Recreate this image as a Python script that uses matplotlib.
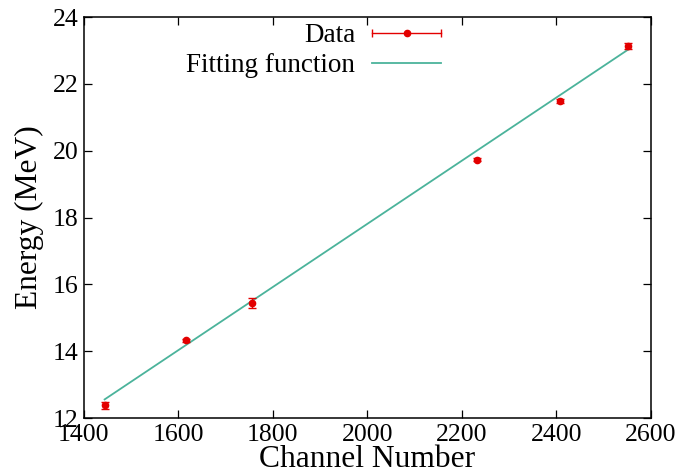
import numpy as np
import matplotlib
matplotlib.use("Agg")
import matplotlib.pyplot as plt
from matplotlib.lines import Line2D
from matplotlib.legend_handler import HandlerBase

# calibration points: channel vs energy
channel = [1444, 1616, 1756, 2232, 2407, 2551]
energy = [12.38, 14.33, 15.45, 19.73, 21.49, 23.13]
energy_err = [0.10, 0.05, 0.15, 0.05, 0.05, 0.10]

# linear fit evaluated over the data range
fit_channel = [1444, 2551]
fit_energy = [12.56, 23.02]

DATA_COLOR = "#e30000"
FIT_COLOR = "#4bb39b"

plt.rcParams["font.family"] = ["Liberation Serif", "DejaVu Serif"]


class HorizontalErrHandler(HandlerBase):
    """gnuplot-like legend key: horizontal bar with end caps and a dot."""
    def create_artists(self, legend, orig_handle, xdescent, ydescent,
                       width, height, fontsize, trans):
        y = height / 2 - ydescent
        x0, x1 = -xdescent, width - xdescent
        bar = Line2D([x0, x1], [y, y], color=DATA_COLOR, lw=1.0)
        caps = Line2D([x0, x1], [y, y], ls="none", marker="|",
                      ms=6, mew=1.0, color=DATA_COLOR)
        dot = Line2D([(x0 + x1) / 2], [y], ls="none", marker="o",
                     ms=4.5, color=DATA_COLOR)
        for a in (bar, caps, dot):
            a.set_transform(trans)
        return [bar, caps, dot]


fig = plt.figure(figsize=(6.76, 4.73), dpi=100)
ax = fig.add_axes([0.124, 0.116, 0.839, 0.848])

ax.errorbar(channel, energy, yerr=energy_err, fmt="o", color=DATA_COLOR,
            ms=4.5, elinewidth=1.0, capsize=3, capthick=1.0, zorder=3)
ax.plot(fit_channel, fit_energy, color=FIT_COLOR, lw=1.3, zorder=2)

ax.set_xlim(1400, 2600)
ax.set_ylim(12, 24)
ax.set_xticks(np.arange(1400, 2601, 200))
ax.set_yticks(np.arange(12, 24.1, 2))

ax.tick_params(direction="in", length=6, width=0.9, top=True, right=True,
               labelsize=18.5, pad=4)
for s in ax.spines.values():
    s.set_linewidth(1.1)

ax.set_xlabel("Channel Number", fontsize=22.7, labelpad=-0.8)
ax.set_ylabel("Energy (MeV)", fontsize=22.7, labelpad=6)

data_key = Line2D([], [], color=DATA_COLOR)
fit_key = Line2D([], [], color=FIT_COLOR, lw=1.3)
ax.legend([data_key, fit_key], ["Data", "Fitting function"],
          handler_map={data_key: HorizontalErrHandler()},
          loc="upper right", bbox_to_anchor=(0.63, 0.985),
          frameon=False, markerfirst=False, fontsize=19.5,
          handlelength=2.55, handletextpad=0.62, labelspacing=0.2,
          borderpad=0, borderaxespad=0)

fig.savefig("out.png", dpi=100)
